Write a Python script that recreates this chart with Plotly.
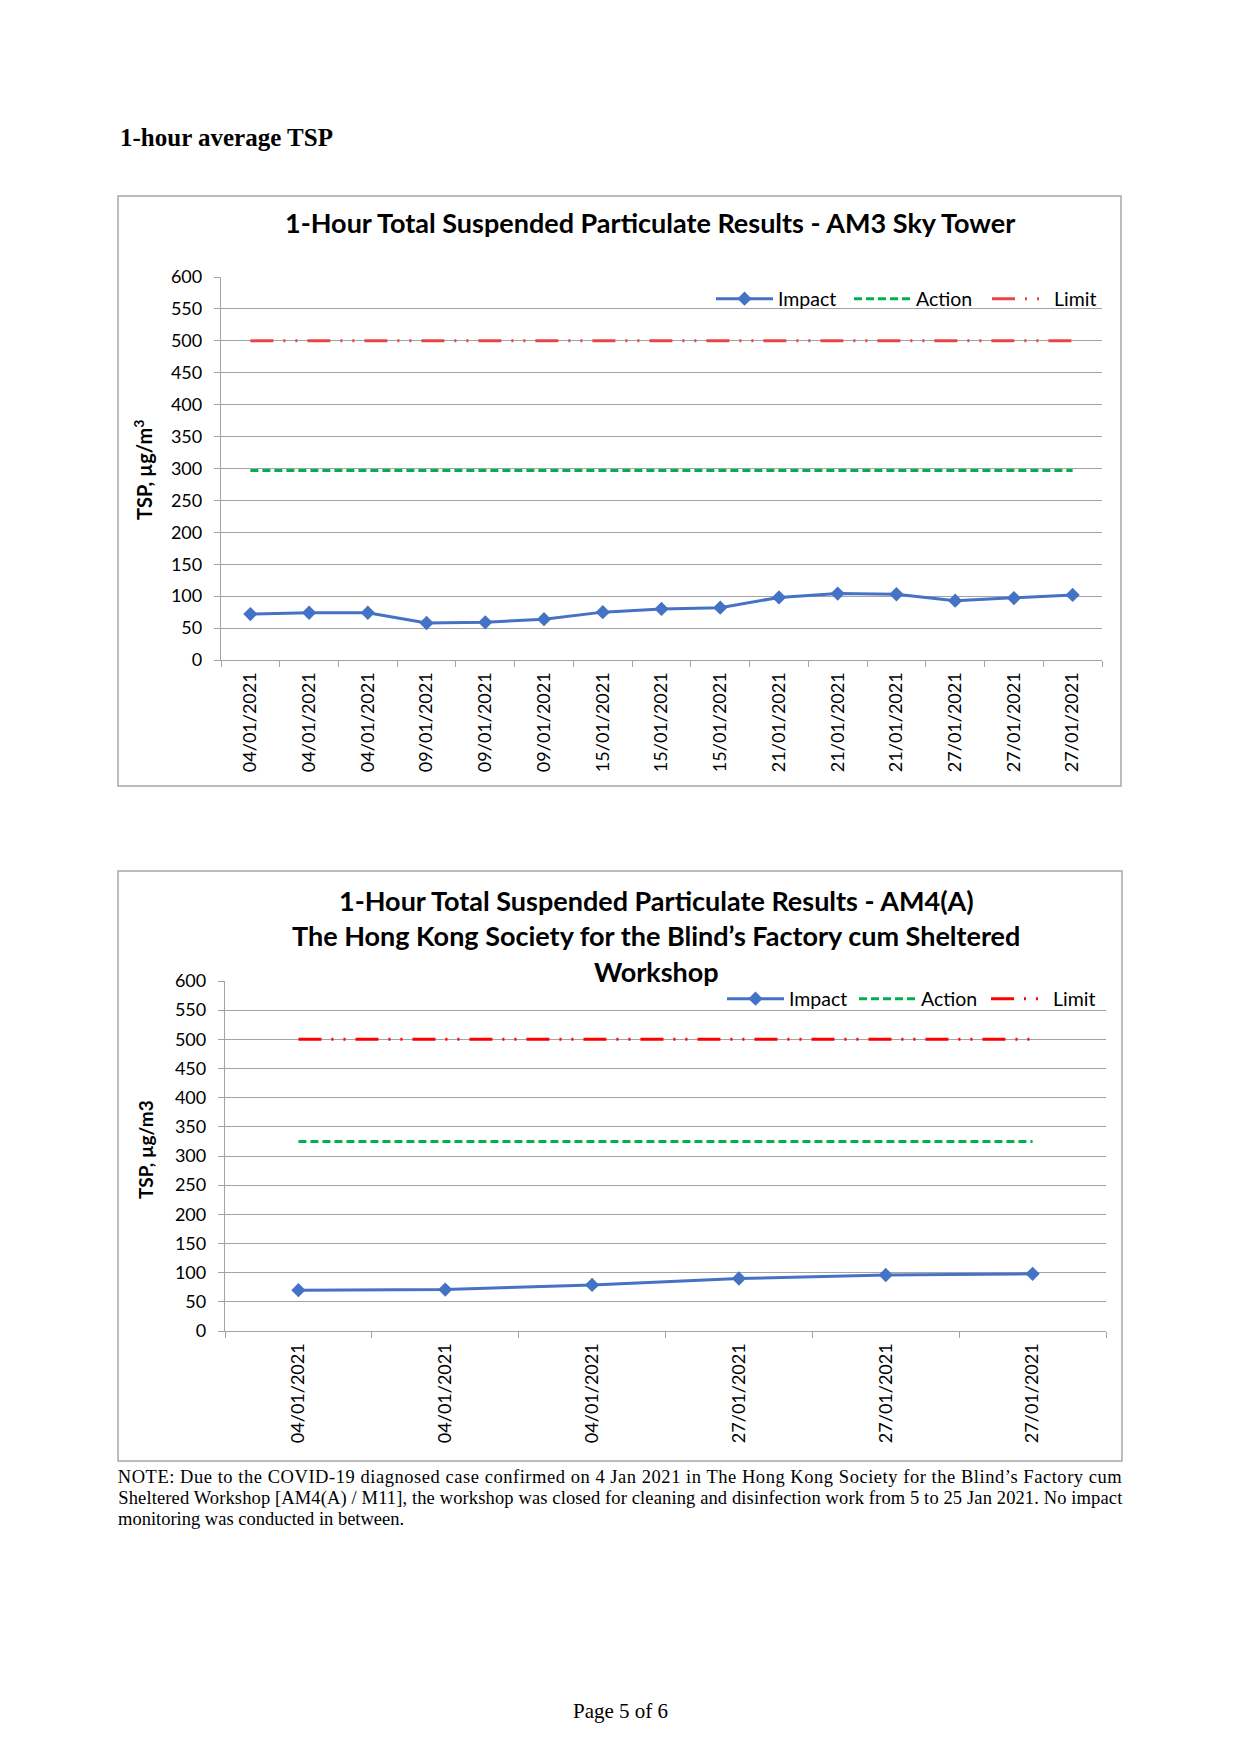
import plotly.graph_objects as go

W, H = 1240, 1754

# ---------------- data ----------------
dates_am3 = ["04/01/2021", "04/01/2021", "04/01/2021", "09/01/2021", "09/01/2021",
             "09/01/2021", "15/01/2021", "15/01/2021", "15/01/2021", "21/01/2021",
             "21/01/2021", "21/01/2021", "27/01/2021", "27/01/2021", "27/01/2021"]
impact_am3 = [72, 74, 74, 58, 59, 64, 75, 80, 82, 98, 104, 103, 93, 97, 102]
action_am3 = 297
limit_am3 = 500

dates_am4 = ["04/01/2021", "04/01/2021", "04/01/2021",
             "27/01/2021", "27/01/2021", "27/01/2021"]
impact_am4 = [70, 71, 79, 90, 96, 98]
action_am4 = 325
limit_am4 = 500

y_ticks = list(range(0, 601, 50))

heading = "1-hour average TSP"
title_am3 = "1-Hour Total Suspended Particulate Results - AM3 Sky Tower"
title_am4 = ["1-Hour Total Suspended Particulate Results - AM4(A)",
             "The Hong Kong Society for the Blind\u2019s Factory cum Sheltered",
             "Workshop"]
ytitle_am3 = "TSP, \u00b5g/m<sup>3</sup>"
ytitle_am4 = "TSP, \u00b5g/m3"
note_lines = [
    "NOTE: Due to the COVID-19 diagnosed case confirmed on 4 Jan 2021 in The Hong Kong Society for the Blind\u2019s Factory cum",
    "Sheltered Workshop [AM4(A) / M11], the workshop was closed for cleaning and disinfection work from 5 to 25 Jan 2021. No impact",
    "monitoring was conducted in between.",
]
footer = "Page 5 of 6"

# ---------------- style ----------------
BLUE = "#4472C4"
GREEN = "#00B050"
RED1 = "#EA4545"
RED2 = "#FF0000"
GRID = "#A3A3A3"
SANS = "Lato, Calibri, Carlito, sans-serif"
SERIF = "Liberation Serif, Times New Roman, serif"


def px(x):
    return x / W


def py(y):
    return 1 - y / H


fig = go.Figure()


def add_chart(dates, impact, action, limit, xa, ya, legend, red):
    xs = list(range(len(dates)))
    fig.add_trace(go.Scatter(
        x=xs, y=impact, name="Impact", mode="lines+markers",
        line=dict(color=BLUE, width=3),
        marker=dict(symbol="diamond", size=11, color=BLUE),
        xaxis=xa, yaxis=ya, legend=legend))
    fig.add_trace(go.Scatter(
        x=xs, y=[action] * len(xs), name="Action", mode="lines",
        line=dict(color=GREEN, width=3, dash="8px,4px"),
        xaxis=xa, yaxis=ya, legend=legend))
    fig.add_trace(go.Scatter(
        x=xs, y=[limit] * len(xs), name="Limit", mode="lines",
        line=dict(color=red, width=3, dash="23px,10px,2px,10px,2px,10px"),
        xaxis=xa, yaxis=ya, legend=legend))


add_chart(dates_am3, impact_am3, action_am3, limit_am3, "x", "y", "legend", RED1)
add_chart(dates_am4, impact_am4, action_am4, limit_am4, "x2", "y2", "legend2", RED2)


def xaxis_cfg(dates, x0, x1, anchor):
    n = len(dates)
    return dict(
        domain=[px(x0), px(x1)], anchor=anchor,
        range=[-0.5, n - 0.5], tickmode="array",
        tickvals=list(range(n)), ticktext=dates, tickangle=-90,
        ticks="", showgrid=False, zeroline=False,
        showline=True, linecolor=GRID, linewidth=1.3,
        tickfont=dict(family=SANS, size=18, color="#000"),
        ticklabelstandoff=4, automargin=False,
        minor=dict(tickmode="array", tickvals=[i - 0.5 for i in range(n + 1)],
                   ticks="outside", ticklen=6, tickcolor=GRID, tickwidth=1.3,
                   showgrid=False),
        fixedrange=True,
    )


def yaxis_cfg(y0, y1, anchor):
    return dict(
        domain=[py(y1), py(y0)], anchor=anchor,
        range=[0, 600], tickmode="array", tickvals=y_ticks,
        ticks="outside", ticklen=6, tickcolor=GRID, tickwidth=1.3,
        showgrid=True, gridcolor=GRID, gridwidth=1.3, zeroline=False,
        showline=True, linecolor=GRID, linewidth=1.3,
        tickfont=dict(family=SANS, size=18, color="#000"),
        ticklabelstandoff=8, automargin=False,
        fixedrange=True,
    )


def legend_cfg(x_left, y_mid, entry_w):
    return dict(orientation="h", x=px(x_left), y=py(y_mid), xanchor="left", yanchor="middle",
                font=dict(family=SANS, size=19.5, color="#000"), bgcolor="rgba(0,0,0,0)",
                itemwidth=57, entrywidth=entry_w, tracegroupgap=0)


fig.update_layout(
    width=W, height=H, margin=dict(l=0, r=0, t=0, b=0, autoexpand=False),
    paper_bgcolor="white", plot_bgcolor="white",
    xaxis=xaxis_cfg(dates_am3, 221, 1102, "y"),
    yaxis=yaxis_cfg(277, 660, "x"),
    xaxis2=xaxis_cfg(dates_am4, 225, 1106, "y2"),
    yaxis2=yaxis_cfg(981, 1331, "x2"),
    legend=legend_cfg(711, 299, 66),
    legend2=legend_cfg(722, 999, 60),
    showlegend=True,
)

# chart borders
for (x0, y0, x1, y1) in [(118, 196, 1121, 786), (118, 871, 1122, 1461)]:
    fig.add_shape(type="rect", xref="paper", yref="paper",
                  x0=px(x0), x1=px(x1), y0=py(y0), y1=py(y1),
                  line=dict(color="#A6A6A6", width=1.5), fillcolor="rgba(0,0,0,0)",
                  layer="below")

ann = []
ann.append(dict(text="<b>%s</b>" % heading, x=px(118), y=py(137), xanchor="left", yanchor="middle",
                font=dict(family=SERIF, size=25, color="#000")))
ann.append(dict(text="<b>%s</b>" % title_am3, x=px(650), y=py(223), xanchor="center", yanchor="middle",
                font=dict(family=SANS, size=27, color="#000")))
for i, (t, yy) in enumerate(zip(title_am4, [900, 935, 971])):
    ann.append(dict(text="<b>%s</b>" % t, x=px(656), y=py(yy), xanchor="center", yanchor="middle",
                    font=dict(family=SANS, size=27, color="#000")))
ann.append(dict(text="<b>%s</b>" % ytitle_am3, x=px(143), y=py(470), textangle=-90,
                xanchor="center", yanchor="middle", font=dict(family=SANS, size=20, color="#000")))
ann.append(dict(text="<b>%s</b>" % ytitle_am4, x=px(145), y=py(1150), textangle=-90,
                xanchor="center", yanchor="middle", font=dict(family=SANS, size=19, color="#000")))

# note text: lines 1-2 justified in the browser (textLength), line 3 left aligned
NOTE_SIZE = 18.5
note_left, note_right = 118, 1122
note_y = [1477, 1498, 1519]
for li, line in enumerate(note_lines):
    if li < 2:
        ann.append(dict(text=line, x=px((note_left + note_right) / 2), y=py(note_y[li]),
                        xanchor="center", yanchor="middle",
                        font=dict(family=SERIF, size=NOTE_SIZE, color="#000")))
    else:
        ann.append(dict(text=line, x=px(note_left - 2), y=py(note_y[li]), xanchor="left",
                        yanchor="middle", font=dict(family=SERIF, size=NOTE_SIZE, color="#000")))

ann.append(dict(text=footer, x=px(620), y=py(1711), xanchor="center", yanchor="middle",
                font=dict(family=SERIF, size=21, color="#000")))

for a in ann:
    a.update(xref="paper", yref="paper", showarrow=False)
fig.update_layout(annotations=ann)

justify_js = """
document.body.style.margin='0';document.body.style.overflow='hidden';
(function(){
  var gd=document.getElementById('{plot_id}');
  var starts=['NOTE:','Sheltered Workshop'];
  function just(){
    document.querySelectorAll('text.annotation-text').forEach(function(t){
      var s=t.textContent||'';
      for(var i=0;i<starts.length;i++){
        if(s.indexOf(starts[i])===0){
          t.setAttribute('textLength','%d');
          t.setAttribute('lengthAdjust','spacing');
        }
      }
    });
  }
  just(); setTimeout(just,50); setTimeout(just,300);
  if(gd && gd.on){gd.on('plotly_afterplot',just);}
})();
""" % (note_right - note_left)

fig.write_html("out.html", config={"displayModeBar": False}, post_script=justify_js)
